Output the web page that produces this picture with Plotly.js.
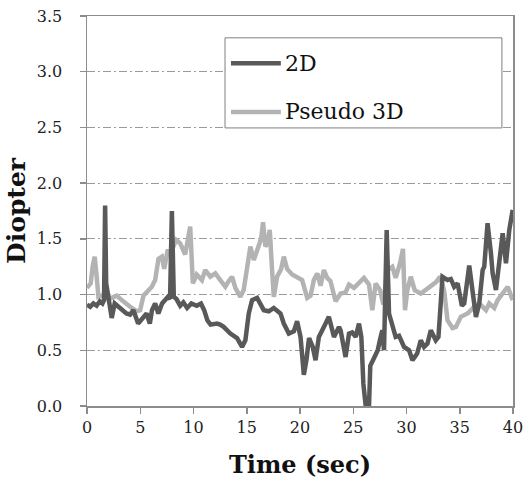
<!DOCTYPE html>
<html>
<head>
<meta charset="utf-8">
<script src="https://cdn.plot.ly/plotly-3.0.1.min.js"></script>
<style>html,body{margin:0;padding:0;background:#fff;}#chart{width:525px;height:486px;}</style>
</head>
<body>
<div id="chart"></div>
<script>
// ---- Data ----
const seriesNames = ["2D", "Pseudo 3D"];
const xTicks = [0, 5, 10, 15, 20, 25, 30, 35, 40];
const yTicks = [0, 0.5, 1.0, 1.5, 2.0, 2.5, 3.0, 3.5];

const time2D = [
  0.0, 0.3, 0.6, 0.9, 1.2, 1.45, 1.6, 1.7, 1.8, 2.0, 2.16, 2.32, 2.6, 2.95, 3.42, 3.7, 4.05, 4.36, 4.8, 5.3,
  5.6, 5.9, 6.1, 6.4, 6.7, 7.05, 7.34, 7.6, 7.8, 7.97, 8.15, 8.4, 8.75, 9.05, 9.4, 9.8, 10.3, 10.7, 11.0, 11.3,
  11.6, 12.2, 12.5, 12.83, 13.46, 14.09, 14.56, 14.87, 15.19, 15.5, 15.97, 16.28, 16.6, 17.07, 17.54, 18.17, 18.48, 18.95, 19.42, 19.73,
  20.05, 20.36, 20.6, 20.85, 21.2, 21.46, 21.77, 22.24, 22.71, 23.19, 23.66, 23.81, 24.28, 24.6, 24.9, 25.23, 25.54, 25.76, 25.95, 26.17,
  26.48, 26.6, 26.95, 27.3, 27.5, 27.73, 27.89, 28.14, 28.36, 28.67, 28.98, 29.3, 29.77, 30.24, 30.56, 31.0, 31.34, 31.65, 31.97, 32.28,
  32.75, 33.0, 33.22, 33.38, 33.85, 34.16, 34.48, 34.8, 35.2, 35.42, 35.89, 36.2, 36.52, 36.83, 37.15, 37.3, 37.61, 37.93, 38.09, 38.4,
  38.71, 39.03, 39.34, 39.65, 39.97
];
const value2D = [
  0.91, 0.89, 0.92, 0.90, 0.94, 0.92, 0.95, 1.80, 1.10, 0.97, 0.93, 0.79, 0.92, 0.89, 0.85, 0.83, 0.82, 0.86, 0.74, 0.79,
  0.83, 0.74, 0.86, 0.92, 0.83, 0.92, 0.95, 0.98, 0.96, 1.75, 0.98, 0.96, 0.90, 0.93, 0.88, 0.92, 0.90, 0.92, 0.86, 0.77,
  0.73, 0.74, 0.73, 0.71, 0.65, 0.61, 0.53, 0.59, 0.83, 0.95, 0.97, 0.92, 0.86, 0.85, 0.88, 0.83, 0.74, 0.65, 0.67, 0.76,
  0.62, 0.28, 0.41, 0.61, 0.53, 0.41, 0.62, 0.71, 0.80, 0.62, 0.71, 0.68, 0.44, 0.65, 0.66, 0.62, 0.74, 0.62, 0.20, 0.00,
  0.00, 0.36, 0.44, 0.50, 0.59, 0.68, 0.50, 1.58, 0.83, 0.71, 0.62, 0.63, 0.53, 0.50, 0.41, 0.47, 0.59, 0.53, 0.56, 0.68,
  0.59, 0.62, 0.92, 1.16, 1.13, 1.14, 1.07, 1.10, 0.90, 0.92, 1.26, 1.01, 0.80, 0.92, 1.22, 1.25, 1.64, 1.37, 1.19, 1.04,
  1.28, 1.55, 1.28, 1.58, 1.76
];

const time3D = [
  0.0, 0.35, 0.53, 0.72, 0.91, 1.07, 1.38, 1.85, 2.32, 2.79, 3.26, 3.73, 4.2, 4.67, 4.99, 5.3, 5.77, 6.09, 6.4, 6.71,
  7.03, 7.25, 7.56, 7.97, 8.38, 8.75, 9.22, 9.69, 9.94, 10.3, 10.79, 11.1, 11.58, 12.05, 12.52, 12.99, 13.3, 13.62, 13.93, 14.4,
  14.71, 15.03, 15.34, 15.66, 16.13, 16.35, 16.53, 16.75, 16.97, 17.16, 17.38, 17.54, 17.85, 18.23, 18.48, 18.79, 19.26, 19.73, 20.2, 20.68,
  20.99, 21.3, 21.62, 21.93, 22.24, 22.55, 22.86, 23.34, 23.81, 24.28, 24.6, 25.07, 25.54, 26.01, 26.48, 26.79, 27.1, 27.51, 27.83, 28.2,
  28.67, 28.98, 29.39, 29.67, 29.86, 30.08, 30.4, 30.77, 31.34, 31.81, 32.28, 32.75, 33.16, 33.53, 33.85, 34.32, 34.64, 35.1, 35.73, 36.36,
  36.83, 37.46, 37.77, 38.24, 38.56, 39.03, 39.5, 39.97
];
const value3D = [
  1.06, 1.10, 1.25, 1.34, 1.16, 0.98, 0.99, 0.97, 0.97, 0.99, 0.95, 0.91, 0.88, 0.85, 0.86, 0.99, 1.04, 1.07, 1.13, 1.32,
  1.34, 1.23, 1.39, 1.40, 1.49, 1.46, 1.36, 1.61, 1.10, 1.18, 1.13, 1.22, 1.16, 1.19, 1.13, 1.07, 1.12, 1.16, 1.06, 0.98,
  1.04, 1.22, 1.43, 1.31, 1.44, 1.50, 1.65, 1.43, 1.47, 1.58, 1.22, 0.98, 1.16, 1.23, 1.34, 1.23, 1.18, 1.15, 1.13, 0.97,
  0.99, 1.13, 1.19, 1.08, 1.22, 1.15, 1.12, 0.94, 1.01, 1.02, 1.09, 1.06, 1.10, 1.15, 1.09, 0.86, 1.10, 1.04, 0.91, 1.22,
  1.25, 1.15, 1.28, 1.41, 0.86, 1.04, 1.16, 1.04, 1.01, 1.04, 1.07, 1.11, 1.16, 1.04, 0.77, 0.70, 0.71, 0.80, 0.83, 0.89,
  0.92, 0.86, 0.92, 0.88, 0.95, 1.01, 1.07, 0.95
];

const colors = ["#595959", "#b3b3b3"];
const serif = "'DejaVu Serif', 'Liberation Serif', serif";

const legendBox = {x0: 0.324, x1: 0.974, y0: 0.713, y1: 0.944};

const traces = [
  {x: time3D, y: value3D, name: seriesNames[1], type: "scatter", mode: "lines",
   line: {color: colors[1], width: 4.5}},
  {x: time2D, y: value2D, name: seriesNames[0], type: "scatter", mode: "lines",
   line: {color: colors[0], width: 4.5}}
];

const legendItems = [
  {y: 0.879, name: seriesNames[0], color: colors[0]},
  {y: 0.754, name: seriesNames[1], color: colors[1]}
];

const shapes = [
  {type: "rect", xref: "paper", yref: "paper", x0: legendBox.x0, x1: legendBox.x1, y0: legendBox.y0, y1: legendBox.y1,
   line: {color: "#7f7f7f", width: 1}, fillcolor: "#ffffff", layer: "above"}
];
const annotations = [];
legendItems.forEach(it => {
  shapes.push({type: "line", xref: "paper", yref: "paper", x0: 0.338, x1: 0.455, y0: it.y, y1: it.y,
               line: {color: it.color, width: 4.5}, layer: "above"});
  annotations.push({xref: "paper", yref: "paper", x: 0.460, y: it.y, xanchor: "left", yanchor: "middle",
                    text: it.name, showarrow: false, font: {family: serif, size: 22, color: "#111"}});
});

const layout = {
  width: 525, height: 486,
  margin: {l: 87, r: 12, t: 16, b: 80},
  paper_bgcolor: "#ffffff", plot_bgcolor: "#ffffff",
  showlegend: false,
  xaxis: {
    range: [0, 40], tickvals: xTicks, ticktext: xTicks.map(String),
    showgrid: false, zeroline: false,
    showline: true, linecolor: "#8c8c8c", linewidth: 1.5, mirror: true,
    ticks: "outside", ticklen: 6, tickcolor: "#8c8c8c", tickwidth: 1.5,
    tickfont: {family: serif, size: 16, color: "#222"},
    title: {text: "<b>Time (sec)</b>", font: {family: serif, size: 24, color: "#111"}, standoff: 20}
  },
  yaxis: {
    range: [0, 3.5], tickvals: yTicks, ticktext: yTicks.map(v => v.toFixed(1)),
    showgrid: true, gridcolor: "#9a9a9a", gridwidth: 1, griddash: "8px,3px,2px,3px",
    zeroline: false,
    showline: true, linecolor: "#8c8c8c", linewidth: 1.5, mirror: true,
    ticks: "outside", ticklen: 6, tickcolor: "#8c8c8c", tickwidth: 1.5,
    ticklabelstandoff: 14,
    tickfont: {family: serif, size: 16, color: "#222"},
    title: {text: "<b>Diopter</b>", font: {family: serif, size: 25, color: "#111"}, standoff: 4}
  },
  shapes: shapes,
  annotations: annotations
};

Plotly.newPlot("chart", traces, layout, {displayModeBar: false, staticPlot: true});
</script>
</body>
</html>
